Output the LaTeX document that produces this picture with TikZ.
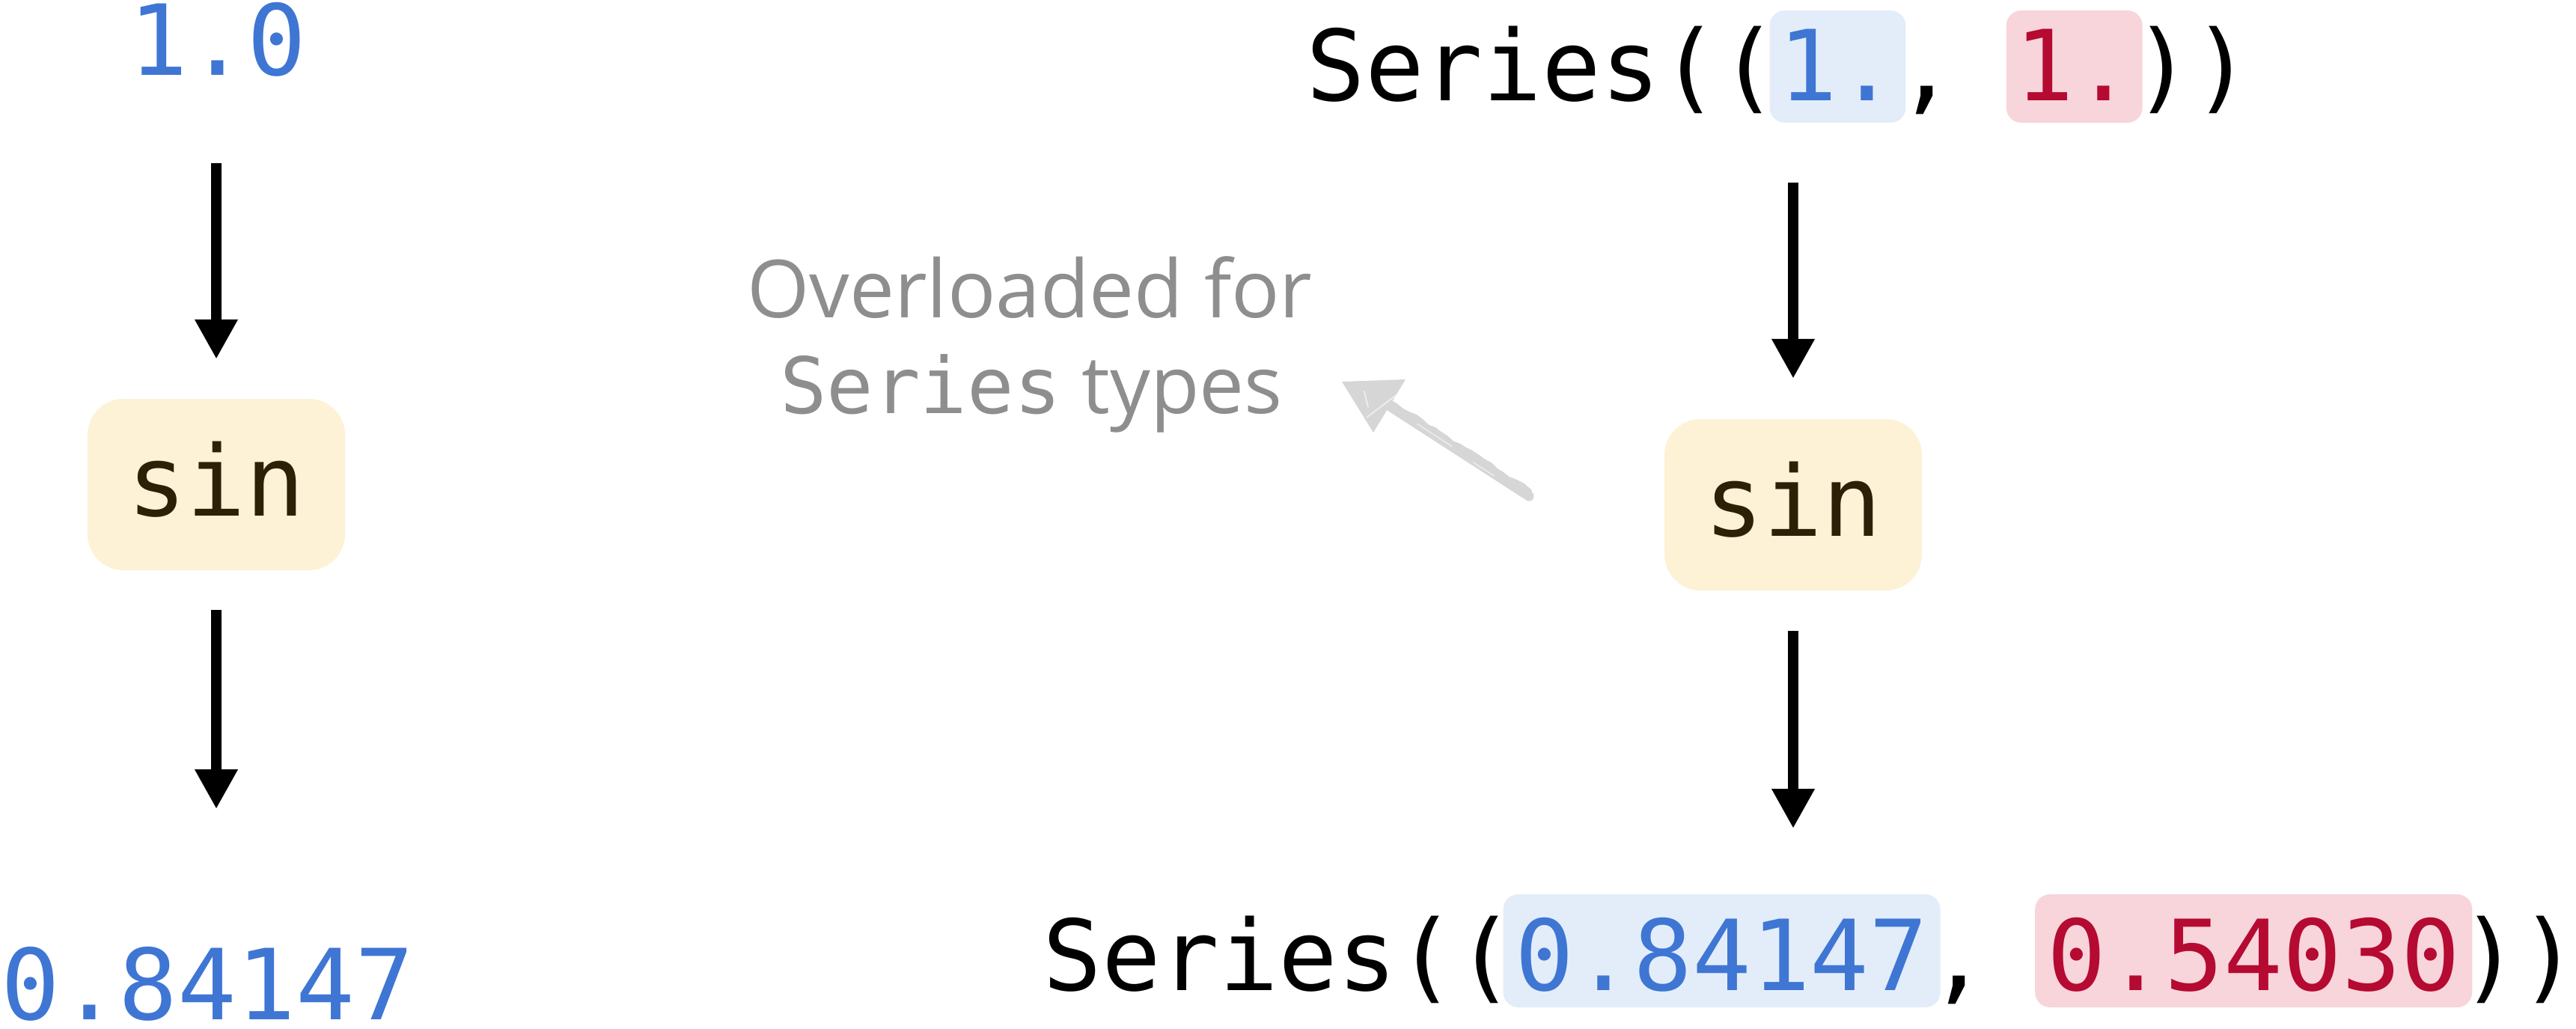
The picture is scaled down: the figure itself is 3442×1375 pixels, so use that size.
\documentclass[tikz,border=0pt]{standalone}
\usepackage{fontspec}
\usetikzlibrary{arrows.meta,calc,decorations.pathmorphing}
\newfontfamily\monofam{DejaVu Sans Mono}
\newfontfamily\notefam{Open Sans}
\definecolor{numblue}{HTML}{3F76D4}
\definecolor{numred}{HTML}{B50A31}
\definecolor{hlbluefill}{HTML}{E3EDF9}
\definecolor{hlredfill}{HTML}{F8D4DB}
\definecolor{creamfill}{HTML}{FDF2D6}
\definecolor{sintext}{HTML}{2C2106}
\definecolor{notegray}{HTML}{8E8E8E}
\definecolor{sketchgray}{HTML}{D6D6D6}
\tikzset{
  mtext/.style={inner sep=0pt, font=\monofam\fontsize{131}{157}\selectfont},
  hlbox/.style={mtext, rounded corners=20pt, inner ysep=0pt},
  hltop/.style={hlbox, inner xsep=12pt, text height=121pt, text depth=29pt},
  hlbot/.style={hlbox, inner xsep=16pt, text height=128pt, text depth=23pt},
  hlblue/.style={fill=hlbluefill, text=numblue},
  hlred/.style={fill=hlredfill, text=numred},
  fnbox/.style={mtext, fill=creamfill, text=sintext, rounded corners=48pt,
    minimum width=344pt, minimum height=229pt, text height=83pt, text depth=0pt},
  flow/.style={line width=14pt, -{Triangle[width=54pt,length=53pt]}},
  notetext/.style={inner sep=0pt, text=notegray, font=\notefam\fontsize{107}{128}\selectfont},
  sketchhead/.style={fill=sketchgray},
  sketchshaft/.style={draw=sketchgray, line width=13pt, line cap=round},
  sketchstreak/.style={draw=white, opacity=0.55, line width=2pt, line cap=round},
}
\begin{document}
\begin{tikzpicture}[x=1pt,y=-1pt]
\useasboundingbox (0,0) rectangle (3442,1375);
\pgfmathsetseed{7}

% ---- left column ----
\node[mtext, text=numblue, anchor=base] (in1) at (291,101) {1.0};
\node[fnbox] (sin1) at (289,647.5) {sin};
\node[mtext, text=numblue, text depth=0pt, anchor=base west] (out1) at (1,1362) {0.84147};
\draw[flow, shorten <=117pt, shorten >=53pt] (sin1.north |- in1.base) -- (sin1.north);
\draw[flow, shorten <=53pt, shorten >=281pt] (sin1.south) -- (sin1.south |- out1.base);

% ---- right column: input ----
\node[mtext, anchor=base west] (s1a) at (1745,135) {Series((};
\node[hltop, hlblue, anchor=base west] (s1b) at ([xshift=-12pt]s1a.base east) {1.};
\node[mtext, anchor=base west] (s1c) at ([xshift=-12pt]s1b.base east) {,\phantom{,}};
\node[hltop, hlred, anchor=base west] (s1d) at ([xshift=-12pt]s1c.base east) {1.};
\node[mtext, anchor=base west] (s1e) at ([xshift=-12pt]s1d.base east) {))};

\node[fnbox] (sin2) at (2396,674.5) {sin};

% ---- right column: output ----
\node[mtext, anchor=base west] (s2a) at (1393,1323) {Series((};
\node[hlbot, hlblue, anchor=base west] (s2b) at ([xshift=-16pt]s2a.base east) {0.84147};
\node[mtext, anchor=base west] (s2c) at ([xshift=-16pt]s2b.base east) {,\phantom{,}};
\node[hlbot, hlred, anchor=base west] (s2d) at ([xshift=-16pt]s2c.base east) {0.54030};
\node[mtext, anchor=base west] (s2e) at ([xshift=-16pt]s2d.base east) {))};

\draw[flow, shorten <=109pt, shorten >=54pt] (sin2.north |- s1a.base) -- (sin2.north);
\draw[flow, shorten <=54pt, shorten >=216pt] (sin2.south) -- (sin2.south |- s2a.base);

% ---- annotation ----
\node[notetext, anchor=base] (note1) at (1376,424) {Overloaded for};
\node[notetext, anchor=base] (note2) at (1378,552) {{\monofam\fontsize{104}{125}\selectfont Series} types};

\coordinate (ptip) at (1793,510);
\coordinate (pb1) at (1878,507);
\coordinate (pb2) at (1835,578);
\coordinate (ptail) at (2043,663);
\coordinate (pbase) at ($(pb1)!0.5!(pb2)$);
\fill[sketchhead] (ptip) -- (pb1) -- (pb2) -- cycle;
\draw[sketchshaft] (pbase) -- (ptail);
\draw[sketchshaft, line width=4pt, decorate, decoration={random steps, segment length=10pt, amplitude=2pt}]
  ($(pbase)+(0,-7)$) -- ($(ptail)+(2,-7)$);
\draw[sketchstreak] ($(ptip)!0.35!(pb1)+(0,14)$) -- ($(ptip)!0.5!(pb2)+(14,0)$);
\draw[sketchstreak] ($(pb1)!0.3!(pb2)$) -- ($(ptip)!0.7!(pb2)+(4,0)$);
\draw[sketchstreak, line width=1.5pt] ($(pbase)!0.2!(ptail)$) -- ($(pbase)!0.45!(ptail)$);
\draw[sketchstreak, line width=1.5pt] ($(pbase)!0.6!(ptail)+(0,3)$) -- ($(pbase)!0.75!(ptail)+(0,3)$);
\end{tikzpicture}
\end{document}
